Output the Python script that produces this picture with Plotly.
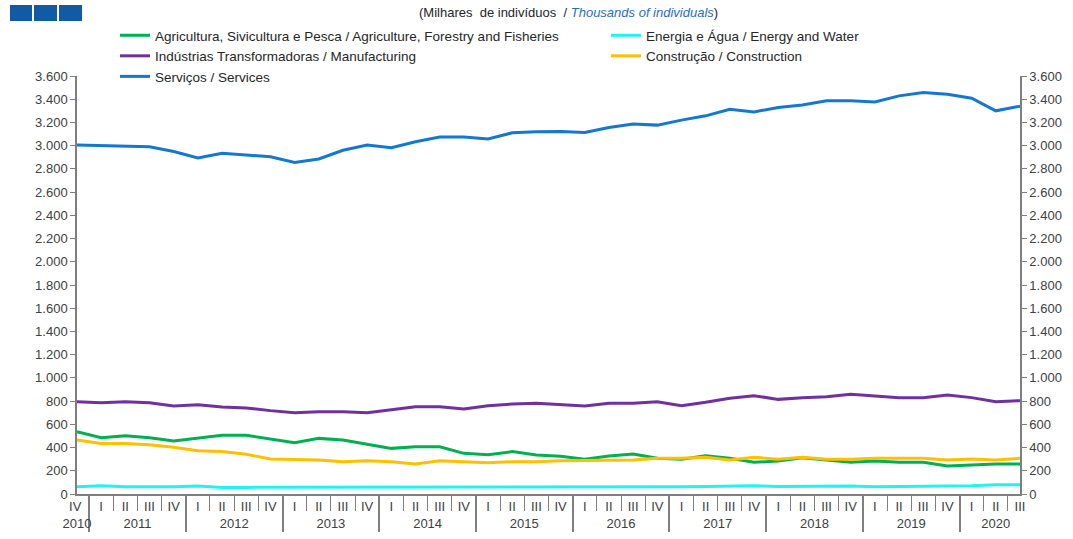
import plotly.graph_objects as go

# ---- category labels (quarters 2010 IV .. 2020 III) ----
# (the lone 2010 quarter gets a trailing space so Plotly keeps I, II, III, IV order in later years)
year_labels = (["2010"] + ["2011"] * 4 + ["2012"] * 4 + ["2013"] * 4 + ["2014"] * 4 +
               ["2015"] * 4 + ["2016"] * 4 + ["2017"] * 4 + ["2018"] * 4 + ["2019"] * 4 +
               ["2020"] * 3)
quarter_labels = (["IV "] + ["I", "II", "III", "IV"] * 9 + ["I", "II", "III"])

# ---- series values (thousands of individuals) ----
agriculture = [537, 485, 502, 485, 456, 479, 505, 505, 476, 442, 479, 465, 428, 393, 407, 407,
               350, 339, 365, 336, 325, 299, 327, 345, 307, 299, 330, 307, 273, 284, 313, 293,
               273, 284, 273, 273, 241, 250, 258, 258]
energy = [63, 70, 63, 62, 62, 68, 57, 57, 57, 62, 57, 57, 57, 57, 57, 57, 62, 62, 62, 60,
          57, 57, 60, 62, 63, 63, 65, 68, 72, 65, 68, 70, 68, 63, 65, 70, 70, 72, 80, 80]
manufacturing = [795, 786, 795, 786, 758, 769, 749, 741, 718, 700, 709, 709, 700, 729, 752, 752,
                 732, 761, 775, 781, 772, 758, 781, 781, 795, 761, 790, 824, 847, 815, 830, 838,
                 859, 844, 830, 830, 853, 830, 795, 804]
construction = [465, 436, 436, 425, 402, 373, 365, 342, 301, 299, 293, 278, 287, 278, 258, 287,
                278, 270, 278, 278, 287, 287, 287, 293, 307, 307, 316, 293, 316, 299, 316, 299,
                299, 307, 307, 307, 293, 302, 293, 307]
services = [3005, 3000, 3000, 2990, 2950, 2895, 2935, 2920, 2905, 2855, 2885, 2960, 3005, 2983,
            3034, 3075, 3075, 3057, 3111, 3120, 3123, 3114, 3157, 3186, 3177, 3220, 3257, 3314,
            3291, 3329, 3351, 3386, 3386, 3377, 3429, 3457, 3443, 3409, 3300, 3340]

series = [
    ("Agricultura, Sivicultura e Pesca / Agriculture, Forestry and Fisheries", agriculture, "#00B050", "legend"),
    ("Indústrias Transformadoras / Manufacturing", manufacturing, "#7030A0", "legend"),
    ("Serviços / Services", services, "#1577CF", "legend"),
    ("Energia e Água / Energy and Water", energy, "#22F2F2", "legend2"),
    ("Construção / Construction", construction, "#FFC000", "legend2"),
]

x_multi = [year_labels, quarter_labels]
flat_cats = [y + " " + q for y, q in zip(year_labels, quarter_labels)]

fig = go.Figure()
for name, vals, color, leg in series:
    fig.add_trace(go.Scatter(x=x_multi, y=vals, name=name, mode="lines",
                             line=dict(color=color, width=3), legend=leg))

# helper trace for the right-hand axis and the quarter tick axis
fig.add_trace(go.Scatter(x=flat_cats, y=services, mode="none", showlegend=False,
                         hoverinfo="skip", xaxis="x2", yaxis="y2"))

W, H = 1073, 539
L, R, T, B = 77, 53, 76, 45
pw, ph = W - L - R, H - T - B


def px_x(px):
    return (px - L) / pw


def px_y(py):
    return 1 + (T - py) / ph


axis_col = "#7f7f7f"
FONT = "Liberation Sans, Arial, sans-serif"
tick_font = dict(family=FONT, size=13, color="#404040")

yaxis_common = dict(range=[0, 3600], dtick=200, tickformat=",d", ticks="outside", ticklen=5,
                    tickcolor=axis_col, showline=True, linecolor=axis_col, linewidth=1.5,
                    showgrid=False, zeroline=False, tickfont=tick_font, fixedrange=True)

leg_font = dict(family=FONT, size=13.5, color="#262626")

fig.update_layout(
    width=W, height=H,
    margin=dict(l=L, r=R, t=T, b=B, autoexpand=False),
    paper_bgcolor="white", plot_bgcolor="white",
    separators=",.",
    font=dict(family=FONT, size=13, color="#262626"),
    xaxis=dict(type="multicategory",
               showdividers=True, dividercolor=axis_col, dividerwidth=1.5,
               showline=True, linecolor=axis_col, linewidth=1.5, ticks="", showgrid=False,
               tickfont=tick_font),
    xaxis2=dict(type="category", overlaying="x", anchor="y", side="bottom", ticks="outside",
                tickson="boundaries", ticklen=16, tickcolor=axis_col, tickwidth=1.2,
                showticklabels=False, showline=False, showgrid=False),
    yaxis=dict(**yaxis_common),
    yaxis2=dict(**yaxis_common, overlaying="y", side="right", anchor="x"),
    legend=dict(x=px_x(115), y=px_y(20), xanchor="left", yanchor="top", orientation="v",
                bgcolor="rgba(0,0,0,0)", font=leg_font, itemwidth=30),
    legend2=dict(x=px_x(606), y=px_y(20), xanchor="left", yanchor="top", orientation="v",
                 bgcolor="rgba(0,0,0,0)", font=leg_font, itemwidth=30),
    showlegend=True,
)

# subtitle
fig.add_annotation(
    x=px_x(568), y=px_y(12), xref="paper", yref="paper", showarrow=False,
    xanchor="center", yanchor="middle",
    text="(Milhares  de indivíduos  / <i><span style='color:#1F6FBF'>Thousands of individuals</span></i>)",
    font=dict(family=FONT, size=13, color="#262626"),
)

# decorative logo squares (top-left)
for x0, x1 in [(10, 32), (34, 57), (59, 82)]:
    fig.add_shape(type="rect", xref="paper", yref="paper",
                  x0=px_x(x0), x1=px_x(x1), y0=px_y(21), y1=px_y(5),
                  fillcolor="#105AA6", line=dict(width=0))

fig.write_html("out.html",
               config={"displayModeBar": False},
               post_script="document.body.style.margin='0px';"
                           "document.documentElement.style.overflow='hidden';")
